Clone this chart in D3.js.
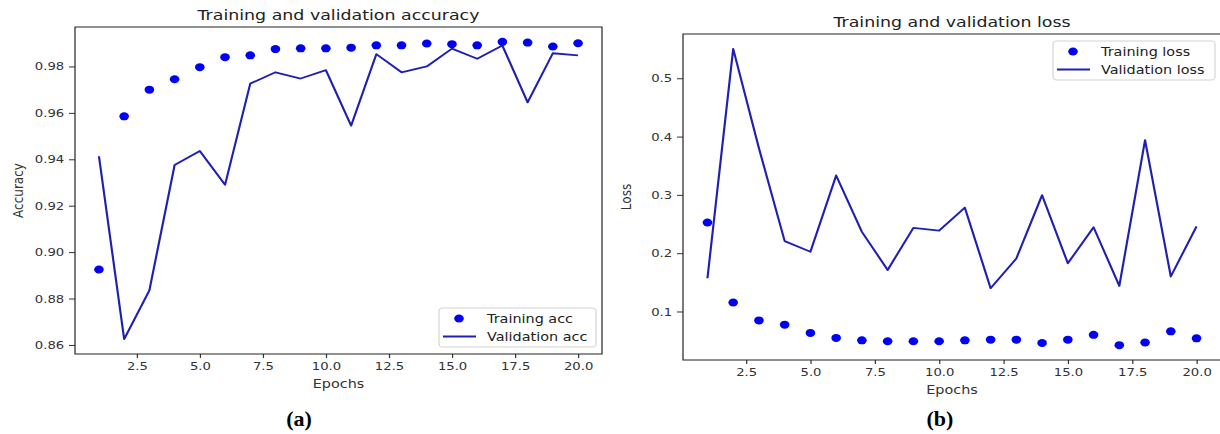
<!DOCTYPE html>
<html>
<head>
<meta charset="utf-8">
<script src="https://cdn.jsdelivr.net/npm/d3@7"></script>
<style>
  body { margin: 0; background: #fff; }
  svg { display: block; }
</style>
</head>
<body>
<div id="viz"></div>
<script>
// values
const epochs = d3.range(1, 21)
const trainAcc = [0.8925, 0.9585, 0.9700, 0.9745, 0.9797, 0.9840, 0.9848, 0.9875, 0.9878, 0.9878,
                  0.9881, 0.9891, 0.9891, 0.9899, 0.9896, 0.9891, 0.9906, 0.9903, 0.9886, 0.9900]
const valAcc = [0.9413, 0.8625, 0.8835, 0.9375, 0.9436, 0.9290, 0.9726, 0.9775, 0.9748, 0.9784,
                0.9545, 0.9853, 0.9775, 0.9800, 0.9877, 0.9833, 0.9890, 0.9645, 0.9857, 0.9848]
const trainLoss = [0.2526, 0.1154, 0.0847, 0.0774, 0.0632, 0.0546, 0.0505, 0.0489, 0.0490, 0.0490,
                   0.0505, 0.0517, 0.0517, 0.0460, 0.0517, 0.0600, 0.0422, 0.0468, 0.0660, 0.0540]
const valLoss = [0.1570, 0.5505, 0.3800, 0.2207, 0.2024, 0.3333, 0.2366, 0.1712, 0.2435, 0.2385,
                 0.2780, 0.1400, 0.1910, 0.2995, 0.1826, 0.2445, 0.1439, 0.3940, 0.1600, 0.2460]

const epochTicks = [2.5, 5, 7.5, 10, 12.5, 15, 17.5, 20]
const accTicks = [0.86, 0.88, 0.90, 0.92, 0.94, 0.96, 0.98]
const lossTicks = [0.1, 0.2, 0.3, 0.4, 0.5]

const width = 1220
const height = 434
// the figure is stretched sideways, text and markers included
const sx = 1.2
const font = 'DejaVu Sans'
const dotColor = '#0000f5'
const lineColor = '#1f1fb4'

const svg = d3.select('#viz')
  .append('svg')
  .attr('width', width)
  .attr('height', height)

const stage = svg.append('g')
  .attr('transform', `scale(${sx},1)`)

// box of each panel, in screen pixels
const panels = [
  {
    box: {left: 75, right: 602, top: 27, bottom: 354},
    title: 'Training and validation accuracy',
    yLabel: 'Accuracy',
    train: trainAcc, val: valAcc,
    trainName: 'Training acc', valName: 'Validation acc',
    yTicks: accTicks, yFormat: d3.format('.2f'),
    legendAt: 'bottom',
    tag: '(a)', tagX: 299
  },
  {
    box: {left: 683, right: 1221, top: 34, bottom: 360},
    title: 'Training and validation loss',
    yLabel: 'Loss',
    train: trainLoss, val: valLoss,
    trainName: 'Training loss', valName: 'Validation loss',
    yTicks: lossTicks, yFormat: d3.format('.1f'),
    legendAt: 'top',
    tag: '(b)', tagX: 940
  }
]

panels.forEach(drawPanel)

function padded(values) {
  const [lo, hi] = d3.extent(values)
  const m = (hi - lo) * 0.05
  return [lo - m, hi + m]
}

function drawPanel(p) {
  const b = p.box
  const left = b.left / sx
  const right = b.right / sx

  const xScale = d3.scaleLinear()
    .domain([0.05, 20.95])
    .range([left, right])

  const yScale = d3.scaleLinear()
    .domain(padded(p.train.concat(p.val)))
    .range([b.bottom, b.top])

  const g = stage.append('g')

  // axes
  const xAxis = g.append('g')
    .attr('transform', `translate(0,${b.bottom})`)
    .call(d3.axisBottom(xScale).tickValues(epochTicks).tickFormat(d3.format('.1f'))
      .tickSize(4).tickPadding(4).tickSizeOuter(0))
  const yAxis = g.append('g')
    .attr('transform', `translate(${left},0)`)
    .call(d3.axisLeft(yScale).tickValues(p.yTicks).tickFormat(p.yFormat)
      .tickSize(5).tickPadding(4).tickSizeOuter(0))

  ;[xAxis, yAxis].forEach(ax => {
    ax.select('.domain').remove()
    ax.selectAll('line').attr('stroke', '#333')
    ax.selectAll('text')
      .attr('fill', '#333')
      .style('font-family', font)
      .style('font-size', '11px')
  })

  // frame
  g.append('rect')
    .attr('x', left)
    .attr('y', b.top)
    .attr('width', right - left)
    .attr('height', b.bottom - b.top)
    .attr('fill', 'none')
    .attr('stroke', '#222')
    .attr('stroke-width', 1)

  const lineGenerator = d3.line()
    .x((d, i) => xScale(epochs[i]))
    .y(d => yScale(d))

  g.append('path')
    .attr('d', lineGenerator(p.val))
    .attr('fill', 'none')
    .attr('stroke', lineColor)
    .attr('stroke-width', 1.8)
    .attr('stroke-linejoin', 'round')

  g.selectAll('.dot')
    .data(p.train)
    .join('circle')
    .attr('class', 'dot')
    .attr('cx', (d, i) => xScale(epochs[i]))
    .attr('cy', d => yScale(d))
    .attr('r', 4)
    .attr('fill', dotColor)

  // title and axis labels
  g.append('text')
    .attr('x', (left + right) / 2)
    .attr('y', b.top - 7)
    .attr('text-anchor', 'middle')
    .style('font-family', font)
    .style('font-size', '14.5px')
    .attr('fill', '#222')
    .text(p.title)

  g.append('text')
    .attr('x', (left + right) / 2)
    .attr('y', b.bottom + 34)
    .attr('text-anchor', 'middle')
    .style('font-family', font)
    .style('font-size', '12px')
    .attr('fill', '#333')
    .text('Epochs')

  g.append('text')
    .attr('transform', `translate(${left - 52 / sx},${(b.top + b.bottom) / 2}) rotate(-90)`)
    .attr('text-anchor', 'middle')
    .style('font-family', font)
    .style('font-size', '12px')
    .attr('fill', '#333')
    .text(p.yLabel)

  // legend
  const lw = (p.legendAt === 'top' ? 162 : 157) / sx
  const lh = 39
  const lx = right - 6 / sx - lw
  const ly = p.legendAt === 'top' ? b.top + 7 : b.bottom - 7 - lh
  const legend = g.append('g').attr('transform', `translate(${lx},${ly})`)

  legend.append('rect')
    .attr('width', lw)
    .attr('height', lh)
    .attr('rx', 3)
    .attr('fill', '#fff')
    .attr('fill-opacity', 0.8)
    .attr('stroke', '#d4d4d4')

  legend.append('circle')
    .attr('cx', 20 / sx)
    .attr('cy', 10.5)
    .attr('r', 4)
    .attr('fill', dotColor)

  legend.append('line')
    .attr('x1', 4 / sx)
    .attr('x2', 37 / sx)
    .attr('y1', 28.5)
    .attr('y2', 28.5)
    .attr('stroke', lineColor)
    .attr('stroke-width', 1.8)

  legend.selectAll('.label')
    .data([p.trainName, p.valName])
    .join('text')
    .attr('class', 'label')
    .attr('x', 48 / sx)
    .attr('y', (d, i) => 14.8 + i * 18.5)
    .style('font-family', font)
    .style('font-size', '12px')
    .attr('fill', '#222')
    .text(d => d)

  // panel tag below, not stretched
  svg.append('text')
    .attr('x', p.tagX)
    .attr('y', 426)
    .attr('text-anchor', 'middle')
    .style('font-family', 'Liberation Serif')
    .style('font-weight', 'bold')
    .style('font-size', '22px')
    .attr('fill', '#000')
    .text(p.tag)
}
</script>
</body>
</html>
